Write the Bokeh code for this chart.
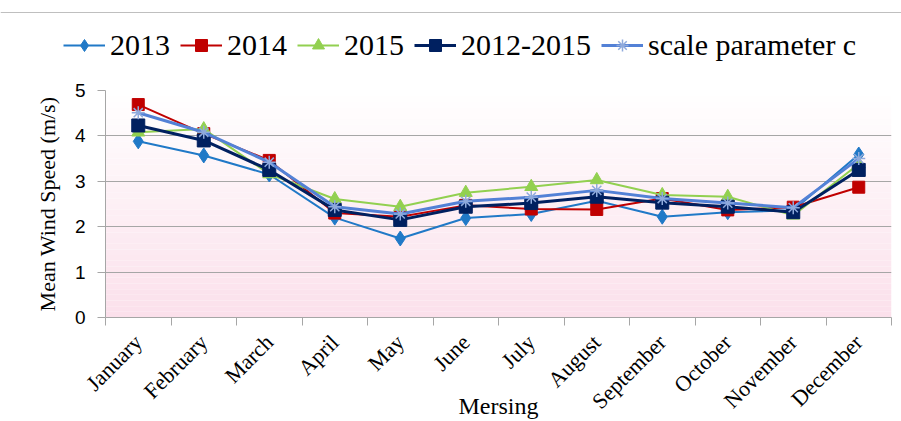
import math
from bokeh.plotting import figure
from bokeh.layouts import column, row
from bokeh.models import (Range1d, FixedTicker, Legend, LegendItem, BoxAnnotation, Span)
from bokeh.embed import file_html
from bokeh.resources import INLINE

months = ["January", "February", "March", "April", "May", "June", "July",
          "August", "September", "October", "November", "December"]
y2013 = [3.88, 3.57, 3.15, 2.20, 1.74, 2.19, 2.28, 2.57, 2.22, 2.32, 2.36, 3.59]
y2014 = [4.69, 4.05, 3.46, 2.30, 2.22, 2.47, 2.39, 2.38, 2.62, 2.37, 2.43, 2.87]
y2015 = [4.08, 4.15, 3.16, 2.61, 2.44, 2.75, 2.88, 3.03, 2.70, 2.66, 2.25, 3.38]
y_all = [4.23, 3.90, 3.25, 2.37, 2.15, 2.44, 2.52, 2.66, 2.53, 2.44, 2.32, 3.25]
y_c = [4.51, 4.08, 3.42, 2.44, 2.28, 2.56, 2.65, 2.80, 2.62, 2.52, 2.42, 3.50]
y_ticks = [0, 1, 2, 3, 4, 5]

x = list(range(1, len(months) + 1))

series = [
    ("2013", y2013, "#2079C7", 2, "diamond", 15, "#2079C7", "#2079C7"),
    ("2014", y2014, "#C00000", 2, "square", 12, "#C00000", "#C00000"),
    ("2015", y2015, "#92D050", 2, "triangle", 13, "#92D050", "#92D050"),
    ("2012-2015", y_all, "#002060", 3, "square", 13, "#002060", "#002060"),
    ("scale parameter c", y_c, "#5381D6", 3, "asterisk", 13, "#8FAADC", "#8FAADC"),
]

# ---------- legend strip ----------
top = figure(width=901, height=70, output_backend="svg", toolbar_location=None,
             x_range=Range1d(100, 101), y_range=Range1d(0, 70),
             x_axis_type=None, y_axis_type=None,
             min_border_left=0, min_border_right=0, min_border_top=0, min_border_bottom=0)
top.outline_line_color = None
top.xgrid.visible = False
top.ygrid.visible = False
top.add_layout(Span(location=58, dimension="width", line_color="#BFBFBF", line_width=1))

items = []
for name, ys, col, lw, mk, sz, mfill, mline in series:
    r1 = top.line(x, ys, line_color=col, line_width=lw)
    r2 = top.scatter(x, ys, marker=mk, size=sz, fill_color=mfill, line_color=mline,
                     line_width=1.5 if mk == "asterisk" else 1)
    items.append(LegendItem(label=name, renderers=[r1, r2]))

legend = Legend(items=items, orientation="horizontal", location=(63, 8),
                label_text_font="Liberation Serif", label_text_font_size="30px",
                label_text_color="black", glyph_width=42, glyph_height=30,
                label_standoff=5, spacing=10, padding=0, margin=0,
                border_line_color=None, background_fill_alpha=0)
top.add_layout(legend, "center")

# ---------- main chart ----------
p = figure(width=901, height=351, output_backend="svg", toolbar_location=None,
           x_range=Range1d(0.5, 12.5), y_range=Range1d(0, 5),
           min_border_left=105, min_border_right=10, min_border_top=20, min_border_bottom=104)
p.outline_line_color = None
p.background_fill_color = "white"
p.border_fill_color = "white"

n = 40
top_rgb = (255, 255, 255)
bot_rgb = (251, 224, 235)
for i in range(n):
    t = (i + 0.5) / n
    r = round(bot_rgb[0] + (top_rgb[0] - bot_rgb[0]) * t)
    g = round(bot_rgb[1] + (top_rgb[1] - bot_rgb[1]) * t)
    b = round(bot_rgb[2] + (top_rgb[2] - bot_rgb[2]) * t)
    p.add_layout(BoxAnnotation(bottom=5 * i / n, top=5 * (i + 1) / n,
                               fill_color="#%02x%02x%02x" % (r, g, b), fill_alpha=1,
                               line_color=None, level="image"))

p.xgrid.visible = False
p.ygrid.grid_line_color = "#A6A6A6"
p.ygrid.grid_line_width = 1.2
p.ygrid.ticker = FixedTicker(ticks=y_ticks)

p.yaxis.ticker = FixedTicker(ticks=y_ticks)
p.yaxis.axis_line_color = "#A6A6A6"
p.yaxis.major_tick_line_color = "#A6A6A6"
p.yaxis.major_tick_out = 8
p.yaxis.major_tick_in = 0
p.yaxis.minor_tick_line_color = None
p.yaxis.major_label_text_font = "Liberation Sans"
p.yaxis.major_label_text_font_size = "19px"
p.yaxis.major_label_text_color = "black"
p.yaxis.major_label_standoff = 12
p.yaxis.axis_label = "Mean Wind Speed (m/s)"
p.yaxis.axis_label_text_font = "Liberation Serif"
p.yaxis.axis_label_text_font_size = "22px"
p.yaxis.axis_label_text_font_style = "normal"
p.yaxis.axis_label_text_color = "black"
p.yaxis.axis_label_standoff = 12

p.xaxis.ticker = FixedTicker(ticks=x, minor_ticks=[v + 0.5 for v in range(0, 13)])
p.xaxis.major_label_overrides = {v: m for v, m in zip(x, months)}
p.xaxis.axis_line_color = "#A6A6A6"
p.xaxis.major_tick_line_color = None
p.xaxis.major_tick_out = 0
p.xaxis.major_tick_in = 0
p.xaxis.minor_tick_line_color = "#A6A6A6"
p.xaxis.minor_tick_out = 8
p.xaxis.minor_tick_in = 0
p.xaxis.major_label_orientation = math.pi / 4
p.xaxis.major_label_text_font = "Liberation Serif"
p.xaxis.major_label_text_font_size = "22px"
p.xaxis.major_label_text_color = "black"
p.xaxis.major_label_standoff = 13
p.xaxis.axis_label = "Mersing"
p.xaxis.axis_label_text_font = "Liberation Serif"
p.xaxis.axis_label_text_font_size = "24px"
p.xaxis.axis_label_text_font_style = "normal"
p.xaxis.axis_label_text_color = "black"
p.xaxis.axis_label_standoff = -33

for name, ys, col, lw, mk, sz, mfill, mline in series:
    p.line(x, ys, line_color=col, line_width=lw)
    p.scatter(x, ys, marker=mk, size=sz, fill_color=mfill, line_color=mline,
              line_width=1.5 if mk == "asterisk" else 1)

layout = column(row(top), p, spacing=0)
open("out.html", "w").write(file_html(layout, INLINE))
